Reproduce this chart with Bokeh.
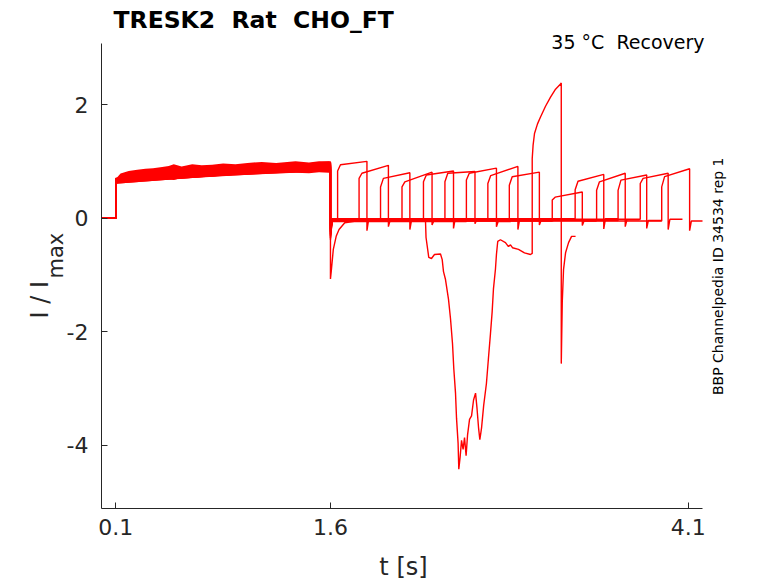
import numpy as np
from bokeh.plotting import figure
from bokeh.layouts import row
from bokeh.models import Range1d, Title, FixedTicker, Label
from bokeh.embed import file_html
from bokeh.resources import INLINE

# ---------------- data ----------------
x_ticks = [0.1, 1.6, 4.1]
y_ticks = [-4, -2, 0, 2]

# conditioning pulse (0.1 s - 1.6 s): noisy band of all sweeps
band_t = [0.1, 0.11, 0.133, 0.19, 0.25, 0.307, 0.36, 0.424, 0.47, 0.505, 0.56, 0.634, 0.70, 0.773,
          0.85, 0.936, 1.02, 1.12, 1.22, 1.356, 1.45, 1.52, 1.588, 1.6]
band_lo = [0.60, 0.61, 0.67, 0.66, 0.69, 0.68, 0.71, 0.70, 0.69, 0.67, 0.71, 0.72, 0.74, 0.755,
           0.76, 0.785, 0.77, 0.785, 0.79, 0.80, 0.79, 0.81, 0.80, 0.80]
band_hi = [0.70, 0.72, 0.785, 0.83, 0.85, 0.87, 0.88, 0.90, 0.92, 0.95, 0.91, 0.95, 0.93, 0.94,
           0.96, 0.95, 0.97, 0.99, 0.97, 1.00, 0.98, 1.00, 1.00, 0.99]

# per sweep values
cond_start = [0.66, 0.62, 0.68, 0.64, 0.70, 0.65, 0.67, 0.63, 0.69, 0.66, 0.64, 0.68, 0.62, 0.70, 0.65, 0.67]
cond_end = [0.95, 0.90, 0.98, 0.86, 0.92, 0.96, 0.84, 0.93, 0.89, 0.97, 0.88, 0.94, 0.91, 0.85, 0.99, 0.87]
tail_dip = [-0.30, -1.07, -0.38, -0.25, -0.20, -0.15, -0.32, -0.12, -0.22, -0.28, -0.18, -0.10, -0.24, -0.14, -0.35, -0.20]
base_lvl = [-0.02, -0.04, -0.03, -0.05, -0.01, -0.03, -0.06, -0.02, -0.04, -0.03, -0.05, -0.01, -0.03, -0.04, -0.02, -0.05]

rec_start = [1.65, 1.80, 1.95, 2.10, 2.25, 2.40, 2.55, 2.70, 2.85, 3.01, 3.15, 3.31, 3.46, 3.61, 3.765, 3.915]
rec_end = [1.855, 2.005, 2.155, 2.31, 2.46, 2.61, 2.76, 2.91, 3.06, 3.213, 3.36, 3.51, 3.66, 3.81, 3.96, 4.11]
sweep_end = [1.955, 2.105, 2.255, 2.41, 2.56, 2.71, 2.86, 3.01, 3.16, 3.313, 3.46, 3.61, 3.76, 3.91, 4.06, 4.2]
rec_rise = [0.83, 0.70, 0.55, 0.55, 0.64, 0.64, 0.67, 0.61, 0.58, None, 0.32, 0.50, 0.49, 0.49, 0.61, 0.55]
rec_knee = [0.94, 0.79, 0.70, 0.64, 0.76, 0.79, 0.79, 0.75, 0.73, None, 0.37, 0.65, 0.64, 0.67, 0.70, 0.73]
rec_top = [1.00, 0.93, 0.80, 0.81, 0.83, 0.82, 0.88, 0.91, 0.81, None, 0.46, 0.77, 0.79, 0.76, 0.79, 0.87]
off_dip = [-0.22, -0.15, -0.20, -0.12, -0.18, -0.10, -0.15, -0.20, -0.12, None, -0.13, -0.19, -0.15, -0.18, -0.20, -0.22]

# deep tail after 1.6 s (sweep 1)
deep_tail_t = [1.6, 1.605, 1.62, 1.64, 1.66, 1.70]
deep_tail_i = [-1.07, -0.95, -0.55, -0.32, -0.20, -0.08]

# the distorted sweep (sweep 9), after its baseline
odd_t = [2.264, 2.268, 2.287, 2.306, 2.327, 2.369, 2.381, 2.39, 2.404, 2.425, 2.439, 2.453, 2.462,
         2.474, 2.481, 2.492, 2.497, 2.506, 2.516, 2.527, 2.537, 2.548, 2.558, 2.572, 2.586, 2.6,
         2.614, 2.624, 2.635, 2.644, 2.656, 2.671, 2.69, 2.704, 2.718, 2.73, 2.739, 2.753, 2.76,
         2.769, 2.788, 2.823, 2.844, 2.858, 2.872, 2.914, 2.956, 2.998, 3.01,
         3.01, 3.016, 3.026, 3.047, 3.068, 3.103, 3.138, 3.173, 3.208, 3.213,
         3.213, 3.22, 3.229, 3.243, 3.264, 3.285, 3.313]
odd_i = [-0.03, -0.34, -0.69, -0.71, -0.64, -0.63, -0.73, -0.94, -1.08, -1.43, -1.77, -2.21, -2.65,
         -3.08, -3.52, -3.96, -4.42, -4.21, -3.91, -4.07, -3.86, -4.18, -3.82, -3.54, -3.48, -3.20,
         -3.08, -3.34, -3.69, -3.90, -3.69, -3.29, -2.91, -2.47, -2.04, -1.65, -1.25, -0.90, -0.64,
         -0.41, -0.38, -0.43, -0.50, -0.47, -0.52, -0.55, -0.61, -0.64, -0.62,
         1.05, 1.28, 1.49, 1.66, 1.78, 1.97, 2.13, 2.27, 2.36, 2.38,
         -2.56, -1.48, -0.90, -0.61, -0.43, -0.32, -0.32]
ODD = 9
DEEP = 1

title_text = "TRESK2\u00a0 Rat\u00a0 CHO_FT"
cond_text = "35 °C\u00a0 Recovery"
id_text = "BBP Channelpedia ID 34534 rep 1"
x_label = "t [s]"
y_label_main = "I / I"
y_label_sub = "max"

# ---------------- layout ----------------
AX_X0, AX_X1 = 0.0, 4.2
AX_Y0, AX_Y1 = -5.11, 3.08
W, H = 778, 583
AX_LEFT, AX_RIGHT, AX_TOP, AX_BOTTOM = 101, 702, 43, 512      # where the axes are drawn (px)
FRAME_RIGHT = 705
W1 = FRAME_RIGHT + 1                                            # main figure width
W2 = W - W1                                                     # side strip for the vertical note
SX = (AX_RIGHT - AX_LEFT) / (AX_X1 - AX_X0)
SY = (AX_BOTTOM - AX_TOP) / (AX_Y1 - AX_Y0)
X0 = AX_X0
X1 = AX_X0 + (FRAME_RIGHT - AX_LEFT) / SX
Y0 = AX_Y0
Y1 = AX_Y0 + AX_BOTTOM / SY
RED = "#ff0000"
FONT = "DejaVu Sans"
AX = "#262626"


def px_x(page_x):
    return X0 + (page_x - AX_LEFT) / SX


def px_y(page_y):
    return Y0 + (AX_BOTTOM - page_y) / SY


p = figure(width=W1, height=H, x_range=Range1d(X0, X1), y_range=Range1d(Y0, Y1),
           output_backend="svg", toolbar_location=None, title_location=None,
           min_border_left=AX_LEFT, min_border_right=W1 - FRAME_RIGHT,
           min_border_top=0, min_border_bottom=H - AX_BOTTOM)
p.outline_line_color = None
p.xgrid.visible = False
p.ygrid.visible = False
p.background_fill_color = "white"
p.border_fill_color = "white"

for ax, ticks, standoff in ((p.xaxis[0], x_ticks, 10), (p.yaxis[0], y_ticks, 13)):
    ax.ticker = FixedTicker(ticks=ticks)
    ax.minor_tick_line_color = None
    ax.major_tick_in = 6
    ax.major_tick_out = 0
    ax.axis_line_color = AX
    ax.major_tick_line_color = AX
    ax.major_label_text_font = FONT
    ax.major_label_text_font_size = "22px"
    ax.major_label_text_color = AX
    ax.major_label_standoff = standoff
p.xaxis.bounds = (AX_X0, AX_X1)
p.yaxis.bounds = (AX_Y0, AX_Y1)
p.xaxis.major_label_overrides = {t: str(t) for t in x_ticks}
p.yaxis.major_label_overrides = {t: str(t) for t in y_ticks}

p.xaxis.axis_label = x_label
p.xaxis.axis_label_text_font = FONT
p.xaxis.axis_label_text_font_size = "24px"
p.xaxis.axis_label_text_font_style = "normal"
p.xaxis.axis_label_text_color = AX
p.xaxis.axis_label_standoff = 15

# conditioning band
p.varea(x=band_t, y1=band_lo, y2=band_hi, fill_color=RED, fill_alpha=1.0)

for k in range(len(rec_start)):
    t = [0.0, 0.1, 0.1, 1.6, 1.6]
    v = [0.0, 0.0, cond_start[k], cond_end[k], tail_dip[k]]
    b = base_lvl[k]
    if k == DEEP:
        t += deep_tail_t[1:]
        v += deep_tail_i[1:]
    else:
        t += [1.612]
        v += [b]
    if k == ODD:
        t += odd_t
        v += odd_i
    else:
        rs, re = rec_start[k], rec_end[k]
        t += [rs, rs, rs + 0.02, re, re, re + 0.012, sweep_end[k]]
        v += [b, rec_rise[k], rec_knee[k], rec_top[k], off_dip[k], b, b]
    p.line(t, v, line_color=RED, line_width=1.4)

# ---------------- texts ----------------
p.add_layout(Label(x=px_x(113), y=px_y(20), text=title_text, text_font=FONT,
                   text_font_size="23.5px", text_font_style="bold", text_color="black",
                   text_align="left", text_baseline="alphabetic"))
p.add_layout(Label(x=px_x(704), y=px_y(42), text=cond_text, text_font=FONT,
                   text_font_size="19px", text_color="black",
                   text_align="right", text_baseline="alphabetic"))

p.add_layout(Title(text=y_label_sub, align="left", offset=230, standoff=-8,
                   text_font=FONT, text_font_size="21px", text_font_style="normal",
                   text_color=AX), "left")
p.add_layout(Title(text=y_label_main, align="left", offset=190, standoff=-16,
                   text_font=FONT, text_font_size="24px", text_font_style="normal",
                   text_color=AX), "left")

# side strip holding the vertical note (pixel ranges, y up)
p2 = figure(width=W2, height=H, x_range=Range1d(0, W2), y_range=Range1d(0, H),
            output_backend="svg", toolbar_location=None, title_location=None,
            x_axis_location=None, y_axis_location=None, min_border=0)
p2.outline_line_color = None
p2.xgrid.visible = False
p2.ygrid.visible = False
p2.background_fill_color = "white"
p2.border_fill_color = "white"
p2.add_layout(Label(x=717 - W1, y=H - 277.5 - 39, text=id_text, text_font=FONT,
                    text_font_size="14px", text_color="black", angle=np.pi / 2,
                    text_align="center", text_baseline="middle"))

layout = row(p, p2)
open("out.html", "w").write(file_html(layout, INLINE))
